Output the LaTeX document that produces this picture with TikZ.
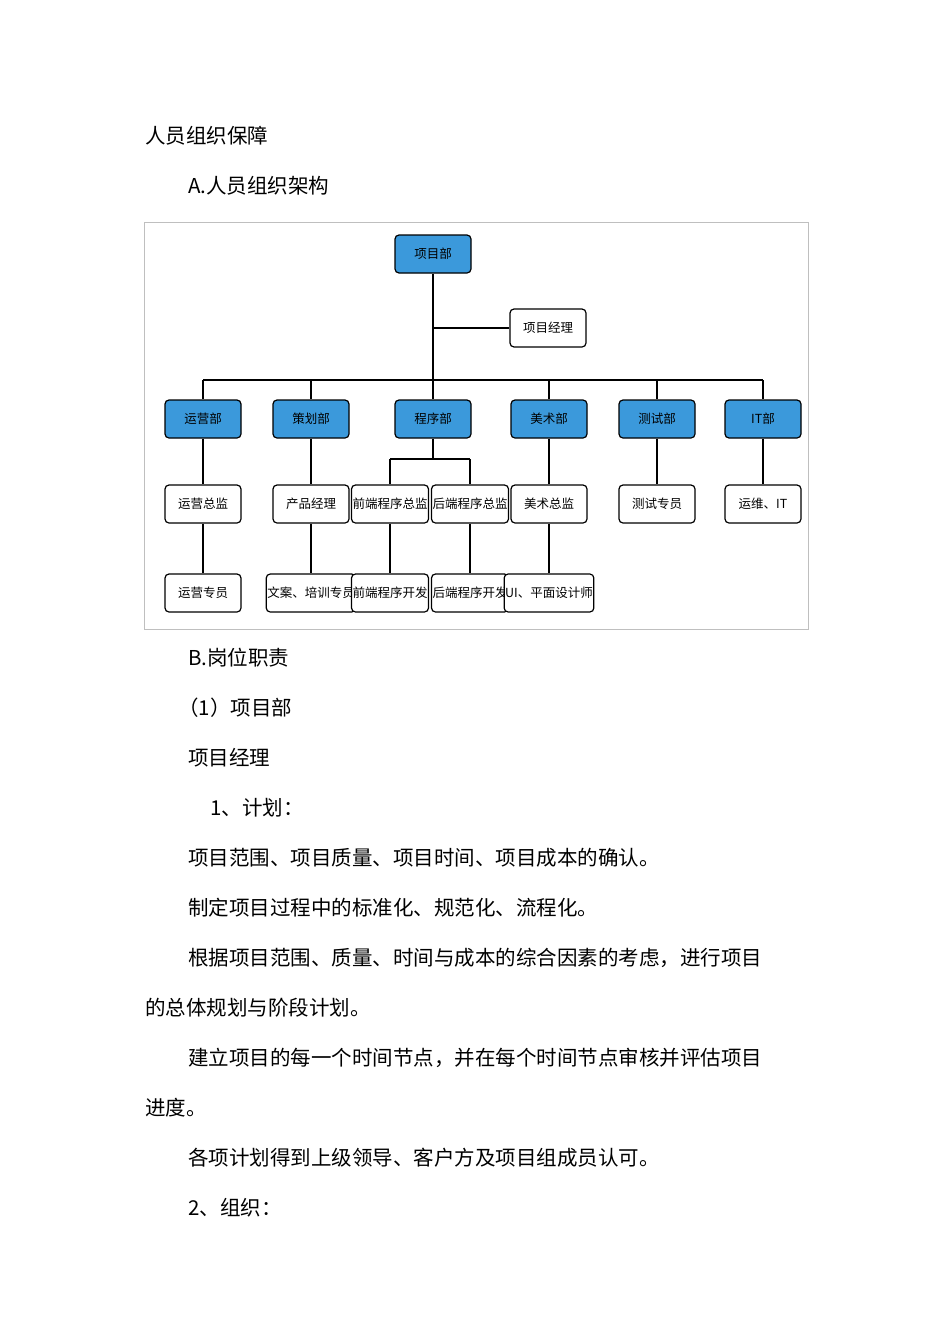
\documentclass[tikz,border=0pt]{standalone}
\usepackage{fontspec}
\setmainfont{Noto Sans CJK SC}
\begin{document}
\begin{tikzpicture}[x=1pt,y=-1pt,
  box/.style={draw=black,line width=1.2pt,rounded corners=4pt,minimum width=76pt,minimum height=38pt,inner sep=1pt,font=\fontsize{12.5}{14}\selectfont},
  dept/.style={box,fill=cyan!70!blue!80},
  posbox/.style={box,fill=white},
  ln/.style={line width=2pt},
  txt/.style={anchor=base west,inner sep=0pt,font=\fontsize{20.5}{24}\selectfont}]
\useasboundingbox (0,0) rectangle (950,1344);
\draw[gray!50,line width=1pt] (144,222) rectangle (808,629);
\node[txt] (t1) at (145,143) {人员组织保障};
\node[txt] (t2) at (188,193) {A.人员组织架构};
% chart
\node[dept] (pm) at (433,254) {项目部};
\node[posbox] (mgr) at (548,328) {项目经理};
\coordinate (j1) at (433,328);
\foreach \n/\x/\t in {d1/203/运营部,d2/311/策划部,d3/433/程序部,d4/549/美术部,d5/657/测试部,d6/763/IT部}{
  \node[dept] (\n) at (\x,419) {\t};
  \coordinate (\n b) at (\x,380);
  \draw[ln] (\n b) -- (\n);
}
\draw[ln] (pm) -- (d3b);
\draw[ln] (j1) -- (mgr);
\draw[ln] (d1b) -- (d6b);
\node[posbox] (p1) at (203,504) {运营总监};
\node[posbox] (p2) at (311,504) {产品经理};
\node[posbox] (p3) at (390,504) {前端程序总监};
\node[posbox] (p4) at (470,504) {后端程序总监};
\node[posbox] (p5) at (549,504) {美术总监};
\node[posbox] (p6) at (657,504) {测试专员};
\node[posbox] (p7) at (763,504) {运维、IT};
\node[posbox] (q1) at (203,593) {运营专员};
\node[posbox] (q2) at (311,593) {文案、培训专员};
\node[posbox] (q3) at (390,593) {前端程序开发};
\node[posbox] (q4) at (470,593) {后端程序开发};
\node[posbox] (q5) at (549,593) {UI、平面设计师};
\coordinate (s0) at (433,459);
\coordinate (s1) at (390,459);
\coordinate (s2) at (470,459);
\draw[ln] (d3) -- (s0);
\draw[ln] (s1) -- (s2);
\draw[ln] (s1) -- (p3);
\draw[ln] (s2) -- (p4);
\foreach \a/\b in {d1/p1,d2/p2,d4/p5,d5/p6,d6/p7,p1/q1,p2/q2,p3/q3,p4/q4,p5/q5}{\draw[ln] (\a) -- (\b);}
% text
\node[txt] (b1) at (188,665) {B.岗位职责};
\node[txt] (b2) at (178,715) {（1）项目部};
\node[txt] (b3) at (188,765) {项目经理};
\node[txt] (b4) at (210,815) {1、计划：};
\node[txt] (b5) at (188,865) {项目范围、项目质量、项目时间、项目成本的确认。};
\node[txt] (b6) at (188,915) {制定项目过程中的标准化、规范化、流程化。};
\node[txt] (b7) at (188,965) {根据项目范围、质量、时间与成本的综合因素的考虑，进行项目};
\node[txt] (b8) at (145,1015) {的总体规划与阶段计划。};
\node[txt] (b9) at (188,1065) {建立项目的每一个时间节点，并在每个时间节点审核并评估项目};
\node[txt] (b10) at (145,1115) {进度。};
\node[txt] (b11) at (188,1165) {各项计划得到上级领导、客户方及项目组成员认可。};
\node[txt] (b12) at (188,1215) {2、组织：};
\end{tikzpicture}
\end{document}
